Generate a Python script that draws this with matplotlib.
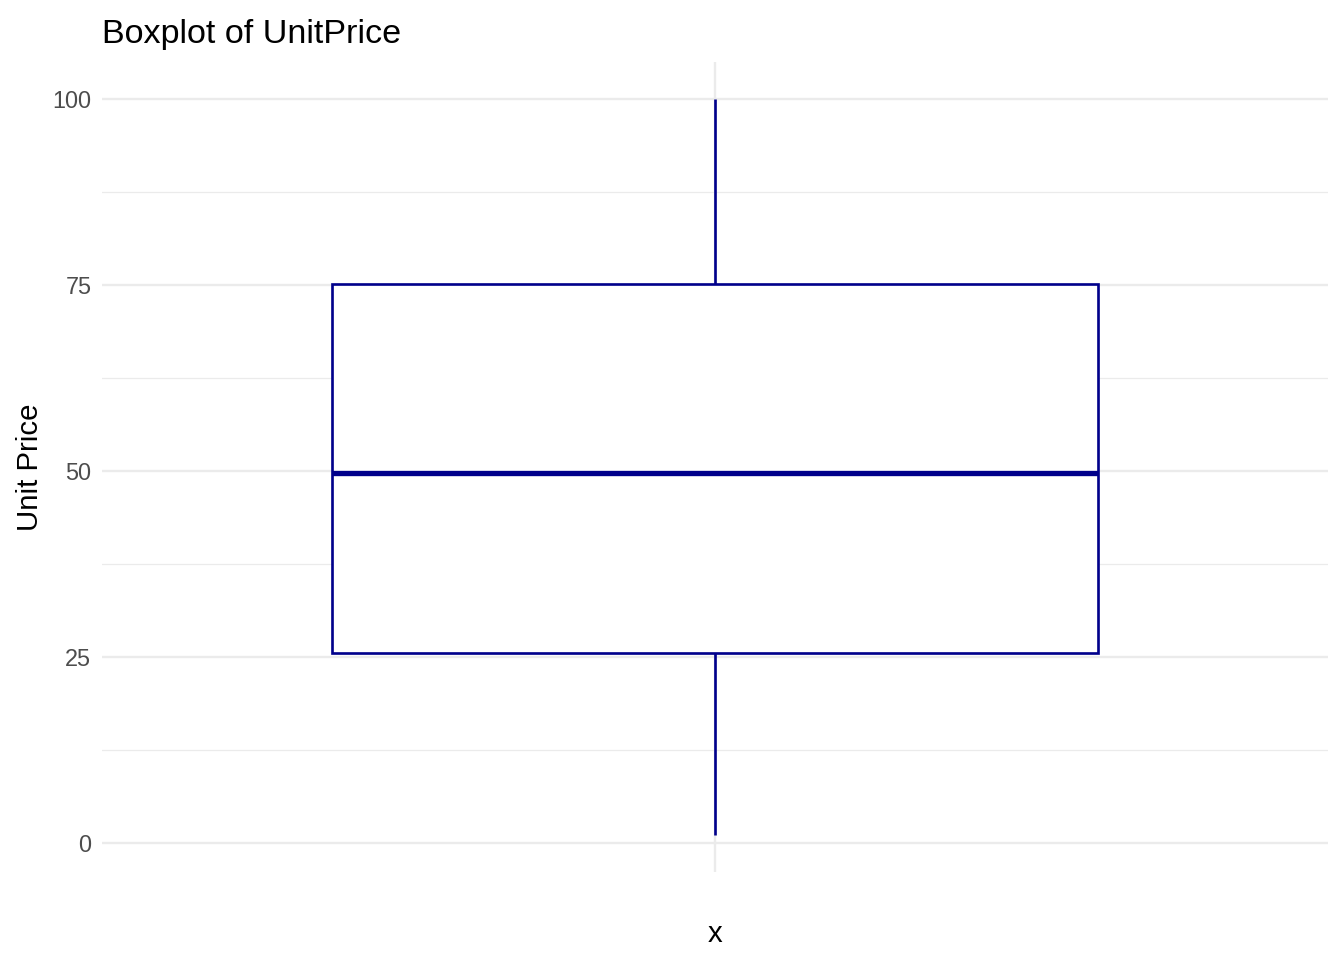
import matplotlib
matplotlib.use("Agg")
import matplotlib.pyplot as plt

# ----------------------------------------------------------------------
# Summary statistics of UnitPrice
# ----------------------------------------------------------------------
group_labels = ["x"]
whisker_low = [1.0]
q1 = [25.5]
median = [49.7]
q3 = [75.1]
whisker_high = [100.0]
y_ticks = [0, 25, 50, 75, 100]
y_minor = [12.5, 37.5, 62.5, 87.5]

plt.rcParams["font.family"] = ["Liberation Sans", "DejaVu Sans"]

LW = 1.0           # ggplot linewidth 0.5 in points
BOX_COLOR = "#00008B"

fig = plt.figure(figsize=(7, 5), dpi=192)
ax = fig.add_axes([0.0759, 0.0917, 0.9121, 0.8437])

stats = [
    dict(label=lab, whislo=lo, q1=a, med=m, q3=b, whishi=hi, fliers=[])
    for lab, lo, a, m, b, hi in zip(group_labels, whisker_low, q1, median, q3, whisker_high)
]
ax.bxp(
    stats, positions=[1], widths=0.75, showcaps=False, patch_artist=True,
    boxprops=dict(facecolor="white", edgecolor=BOX_COLOR, linewidth=LW),
    whiskerprops=dict(color=BOX_COLOR, linewidth=LW, solid_capstyle="butt"),
    medianprops=dict(color=BOX_COLOR, linewidth=2 * LW, solid_capstyle="butt"),
    zorder=3,
)

# axis limits like ggplot defaults
lo, hi = min(whisker_low), max(whisker_high)
pad = 0.05 * (hi - lo)
ax.set_ylim(lo - pad, hi + pad)
ax.set_xlim(0.4, 1.6)

# theme_minimal styling
for s in ax.spines.values():
    s.set_visible(False)
ax.set_yticks(y_ticks)
ax.set_yticks(y_minor, minor=True)
ax.set_xticks([1])
ax.set_xticklabels([""])
ax.tick_params(axis="both", which="both", length=0)
ax.tick_params(axis="y", labelsize=8.8, labelcolor="#4D4D4D", pad=4)
ax.grid(True, which="major", color="#EBEBEB", linewidth=0.9, zorder=0)
ax.grid(True, which="minor", axis="y", color="#EBEBEB", linewidth=0.45, zorder=0)
ax.set_axisbelow(True)

ax.set_ylabel("Unit Price", fontsize=11, labelpad=3)
ax.set_xlabel(group_labels[0], fontsize=11, labelpad=14.5)
ax.set_title("Boxplot of UnitPrice", fontsize=12.8, loc="left", pad=7)

fig.savefig("out.png", dpi=192, facecolor="white")
